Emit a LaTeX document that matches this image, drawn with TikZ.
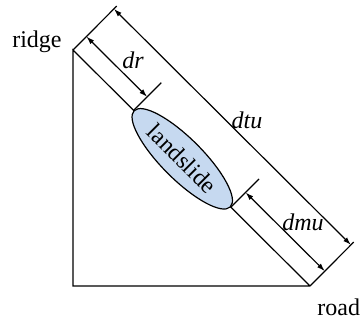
\documentclass[tikz,border=0pt]{standalone}
\usepackage{fontspec}
\setmainfont{Liberation Serif}
\usepackage{xcolor}
\usetikzlibrary{calc,arrows.meta,shapes.geometric}
\definecolor{slideblue}{RGB}{198,217,240}

\begin{document}
\begin{tikzpicture}[x=0.5pt, y=-0.5pt,
  font=\fontsize{12}{14}\selectfont,
  edge/.style={line width=0.6pt},
  dim/.style={line width=0.6pt, {Latex[length=4pt,width=2.6pt]}-{Latex[length=4pt,width=2.6pt]}},
  lbl/.style={font=\fontsize{12}{14}\selectfont\itshape, inner sep=0pt}
]
\useasboundingbox (0,0) rectangle (363,322);
% slope
\coordinate (ridge) at (73,50);
\coordinate (foot) at (73,286);
\coordinate (road) at (310,286);
\draw[edge] (road) -- (foot) -- (ridge) -- (road);
\node[ellipse, draw, line width=0.6pt, fill=slideblue, rotate=-45, inner sep=0pt,
  minimum width=68pt, minimum height=20.5pt] (slide) at ($(ridge)!0.461!(road)$) {landslide};
\node[anchor=base east, inner sep=0pt] (ridgelbl) at ([xshift=-5.5pt, yshift=1.5pt]ridge) {ridge};
\node[anchor=base west, inner sep=0pt] (roadlbl) at ([xshift=3.5pt, yshift=-14.5pt]road) {road};
% extension lines
\coordinate (ridgeext) at ($(ridge)!31pt!90:(road)$);
\coordinate (roadext) at ($(road)!31pt!-90:(ridge)$);
\coordinate (topext) at ($(slide.west)!19.5pt!90:(road)$);
\coordinate (botext) at ($(slide.east)!20pt!-90:(ridge)$);
\draw[edge] (ridge) -- (ridgeext);
\draw[edge] (road) -- (roadext);
\draw[edge] (slide.west) -- (topext);
\draw[edge] (slide.east) -- (botext);
% dimensions
\coordinate (dtuA) at ($(ridge)!29pt!90:(road)$);
\coordinate (dtuB) at ($(road)!29pt!-90:(ridge)$);
\coordinate (drA) at ($(ridge)!9.5pt!90:(road)$);
\coordinate (drB) at ($(slide.west)!9.5pt!90:(road)$);
\coordinate (dmuA) at ($(slide.east)!10.5pt!-90:(ridge)$);
\coordinate (dmuB) at ($(road)!10.5pt!-90:(ridge)$);
\draw[dim] (dtuA) -- (dtuB);
\draw[dim] (drA) -- (drB);
\draw[dim] (dmuA) -- (dmuB);
\node[lbl] (dtulbl) at (247,120) {dtu};
\node[lbl] (drlbl) at (133,60) {dr};
\node[lbl] (dmulbl) at (303,222) {dmu};
\end{tikzpicture}
\end{document}
